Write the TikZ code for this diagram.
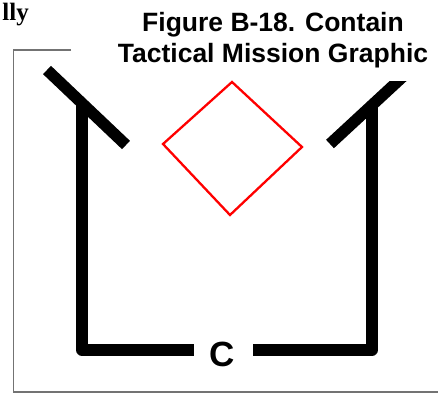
\documentclass[tikz,border=0pt]{standalone}
\usepackage{fontspec}
\setmainfont{Liberation Serif}
\newfontfamily\arialfont{Liberation Sans}
\begin{document}
\begin{tikzpicture}[x=1pt,y=-1pt,
  frame/.style={draw=black!55, line width=1.3pt},
  bar/.style={draw=black, line width=11.5pt, line cap=butt, line join=round},
  obj/.style={draw=red, line width=2.3pt, line join=miter},
  titletext/.style={font=\arialfont\bfseries\fontsize{26.5}{30}\selectfont, anchor=base, inner sep=0pt},
  cornertext/.style={font=\bfseries\fontsize{25}{29}\selectfont, anchor=base east, inner sep=0pt},
  labeltext/.style={font=\arialfont\bfseries\fontsize{35}{40}\selectfont, anchor=base, inner sep=0pt},
]
\useasboundingbox (0,0) rectangle (438,393);
% frame
\coordinate (f1) at (71,50);
\coordinate (f2) at (13.5,50);
\coordinate (f3) at (13.5,392);
\coordinate (f4) at (438,392);
\draw[frame] (f1) -- (f2) -- (f3) -- (f4);
% texts
\node[cornertext] (lly) at (29,21) {lly};
\node[titletext] (t1) at (273,32) {Figure B-18. Contain};
\node[titletext] (t2) at (273,63) {Tactical Mission Graphic};
\node[labeltext] (c) at (222,366) {C};
% main graphic
\coordinate (lt) at (82,104);
\coordinate (lb) at (82,350);
\coordinate (lg) at (194,350);
\coordinate (rg) at (253,350);
\coordinate (rb) at (372,350);
\coordinate (rt) at (372,105);
\coordinate (ld1) at (47,70);
\coordinate (ld2) at (126,145);
\coordinate (rd1) at (330,144);
\coordinate (rd2) at (403.5,76);
\draw[bar] (lt) -- (lb) -- (lg);
\draw[bar] (rg) -- (rb) -- (rt);
\draw[bar] (ld1) -- (ld2);
\begin{scope}
  \clip (300,82) rectangle (438,170);
  \draw[bar] (rd1) -- (rd2);
\end{scope}
% objective diamond
\coordinate (dt) at (232,82);
\coordinate (dr) at (302,147);
\coordinate (db) at (230,215);
\coordinate (dl) at (163,144);
\draw[obj] (dt) -- (dr) -- (db) -- (dl) -- cycle;
\end{tikzpicture}
\end{document}
